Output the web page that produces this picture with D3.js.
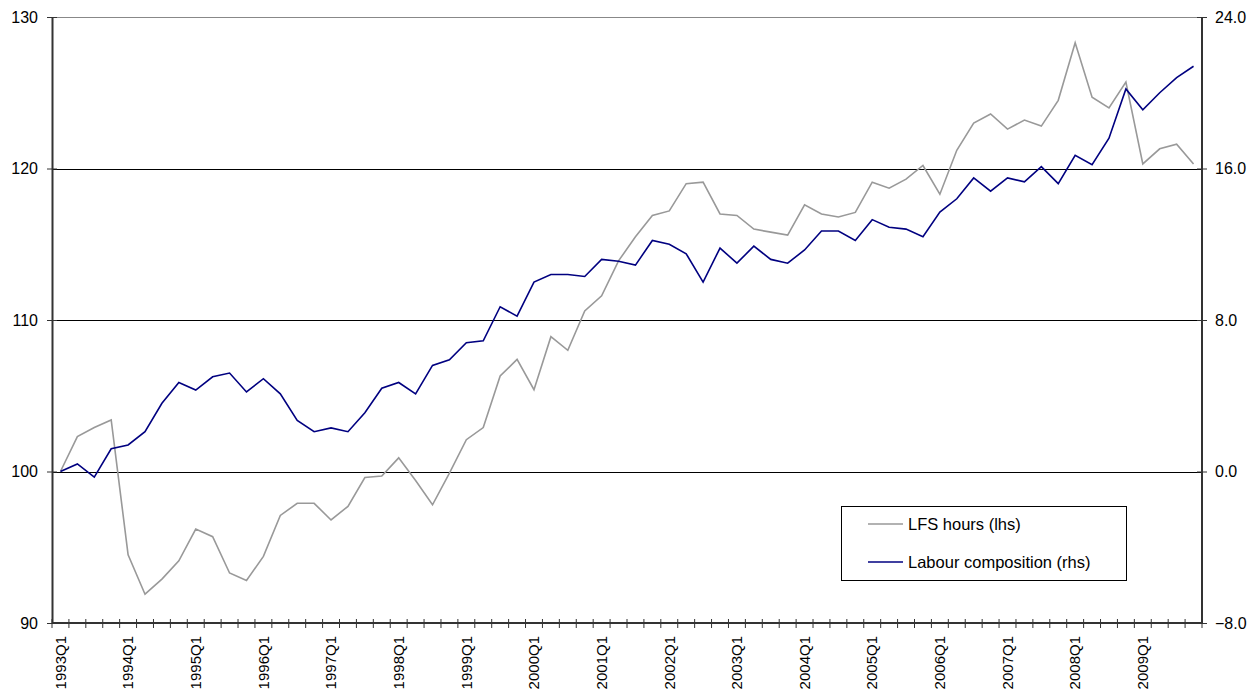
<!DOCTYPE html>
<html>
<head>
<meta charset="utf-8">
<script src="https://cdn.jsdelivr.net/npm/d3@7"></script>
<style>
  body { margin: 0; background: #fff; }
  text { font-family: Arial, "Liberation Sans", sans-serif; fill: #000; }
</style>
</head>
<body>
<div id="chart"></div>
<script>
// quarters 1993Q1 .. 2009Q4
var years = d3.range(1993, 2010);
var quarters = [];
years.forEach(function(y) { [1, 2, 3, 4].forEach(function(q) { quarters.push(y + "Q" + q); }); });

// LFS hours, index (lhs)
var lfsHours = [100, 102.3, 102.9, 103.4, 94.5, 91.9, 92.9, 94.1, 96.2, 95.7, 93.3, 92.8,
  94.4, 97.1, 97.9, 97.9, 96.8, 97.7, 99.6, 99.7, 100.9, 99.4, 97.8, 99.9,
  102.1, 102.9, 106.3, 107.4, 105.4, 108.9, 108.0, 110.6, 111.6, 113.9, 115.5, 116.9,
  117.2, 119.0, 119.1, 117.0, 116.9, 116.0, 115.8, 115.6, 117.6, 117.0, 116.8, 117.1,
  119.1, 118.7, 119.3, 120.2, 118.3, 121.2, 123.0, 123.6, 122.6, 123.2, 122.8, 124.5,
  128.3, 124.7, 124.0, 125.7, 120.3, 121.3, 121.6, 120.3];

// Labour composition (rhs)
var labourComp = [0.0, 0.4, -0.3, 1.2, 1.4, 2.1, 3.6, 4.7, 4.3, 5.0, 5.2, 4.2,
  4.9, 4.1, 2.7, 2.1, 2.3, 2.1, 3.1, 4.4, 4.7, 4.1, 5.6, 5.9,
  6.8, 6.9, 8.7, 8.2, 10.0, 10.4, 10.4, 10.3, 11.2, 11.1, 10.9, 12.2,
  12.0, 11.5, 10.0, 11.8, 11.0, 11.9, 11.2, 11.0, 11.7, 12.7, 12.7, 12.2,
  13.3, 12.9, 12.8, 12.4, 13.7, 14.4, 15.5, 14.8, 15.5, 15.3, 16.1, 15.2,
  16.7, 16.2, 17.6, 20.2, 19.1, 20.0, 20.8, 21.4];

var leftTicks = [90, 100, 110, 120, 130];
var rightTicks = [-8, 0, 8, 16, 24];
var seriesNames = ["LFS hours (lhs)", "Labour composition (rhs)"];

var margin = {top: 17, right: 58, bottom: 72, left: 52},
    width = 1260 - margin.left - margin.right,
    height = 695 - margin.top - margin.bottom;

var svg = d3.select("#chart").append("svg")
    .attr("width", 1260)
    .attr("height", 695)
  .append("g")
    .attr("transform", "translate(" + margin.left + "," + margin.top + ")");

var x = d3.scaleBand().domain(quarters).range([0, width]).padding(0);
var yL = d3.scaleLinear().domain([90, 130]).range([height, 0]);
var yR = d3.scaleLinear().domain([-8, 24]).range([height, 0]);

var cx = function(i) { return x(quarters[i]) + x.bandwidth() / 2; };

// gridlines
svg.selectAll(".grid")
    .data(leftTicks.slice(1))
  .enter().append("line")
    .attr("x1", 0).attr("x2", width)
    .attr("y1", function(d) { return Math.round(yL(d)) + 0.5; })
    .attr("y2", function(d) { return Math.round(yL(d)) + 0.5; })
    .style("stroke", function(d) { return d === 130 ? "#888" : "#000"; })
    .style("stroke-width", 1);

// left axis
var gL = svg.append("g")
    .call(d3.axisLeft(yL).tickValues(leftTicks).tickSize(5).tickPadding(9));
gL.select(".domain").remove();
gL.selectAll(".tick line").attr("x2", -5).attr("x1", 5).style("stroke", "#333");
gL.selectAll("text").style("font-size", "16px");
svg.append("line").attr("x1", 0.5).attr("x2", 0.5).attr("y1", 0).attr("y2", height)
    .style("stroke", "#333").style("stroke-width", 2);

// right axis
var gR = svg.append("g")
    .attr("transform", "translate(" + width + ",0)")
    .call(d3.axisRight(yR).tickValues(rightTicks).tickSize(5).tickPadding(8)
      .tickFormat(d3.format(".1f")));
gR.select(".domain").remove();
gR.selectAll(".tick line").attr("x1", -5).attr("x2", 5).style("stroke", "#333");
gR.selectAll("text").style("font-size", "16px");
svg.append("line").attr("x1", width).attr("x2", width).attr("y1", 0).attr("y2", height)
    .style("stroke", "#333").style("stroke-width", 2);

// bottom axis, tick marks on every quarter boundary
svg.append("line").attr("x1", 0).attr("x2", width).attr("y1", height).attr("y2", height)
    .style("stroke", "#333").style("stroke-width", 2);
var bounds = quarters.map(function(d) { return x(d); }).concat([width]);
svg.selectAll(".qtick")
    .data(bounds)
  .enter().append("line")
    .attr("x1", function(d) { return d; })
    .attr("x2", function(d) { return d; })
    .attr("y1", height - 4).attr("y2", height + 5)
    .style("stroke", "#333");

var gB = svg.append("g")
    .attr("transform", "translate(0," + height + ")")
    .call(d3.axisBottom(x).tickValues(quarters.filter(function(q) { return /Q1$/.test(q); }))
      .tickSize(0));
gB.select(".domain").remove();
gB.selectAll("text")
    .style("font-size", "15px")
    .style("text-anchor", "end")
    .attr("transform", "rotate(-90)")
    .attr("x", -13)
    .attr("y", 0)
    .attr("dy", "0.35em");

// lines
var lineL = d3.line()
    .x(function(d, i) { return cx(i); })
    .y(function(d) { return yL(d); });
var lineR = d3.line()
    .x(function(d, i) { return cx(i); })
    .y(function(d) { return yR(d); });

svg.append("path").datum(lfsHours)
    .attr("d", lineL)
    .style("fill", "none").style("stroke", "#999").style("stroke-width", 1.6);
svg.append("path").datum(labourComp)
    .attr("d", lineR)
    .style("fill", "none").style("stroke", "#000080").style("stroke-width", 1.6);

// legend
var legend = svg.append("g").attr("transform", "translate(789,489)");
legend.append("rect")
    .attr("x", 0.5).attr("y", 0.5).attr("width", 285).attr("height", 74)
    .style("fill", "#fff").style("stroke", "#000");
var legColors = ["#999", "#000080"];
seriesNames.forEach(function(name, i) {
  var yy = 18 + i * 38;
  legend.append("line")
      .attr("x1", 27).attr("x2", 62).attr("y1", yy).attr("y2", yy)
      .style("stroke", legColors[i]).style("stroke-width", 1.5);
  legend.append("text")
      .attr("x", 67).attr("y", yy).attr("dy", "0.35em")
      .style("font-size", "16.5px")
      .text(name);
});
</script>
</body>
</html>
